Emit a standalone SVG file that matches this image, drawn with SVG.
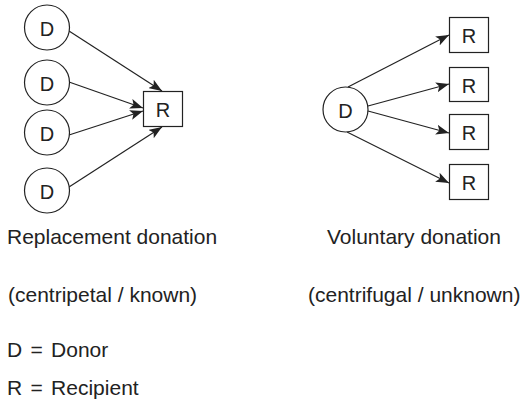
<svg xmlns="http://www.w3.org/2000/svg" width="523" height="402" viewBox="0 0 523 402">
<defs>
<style>
.node{fill:#fff;stroke:#222;stroke-width:1.2}
.lbl{font-family:"Liberation Sans",Arial,sans-serif;font-size:20px;fill:#222;text-anchor:middle;dominant-baseline:central}
.txt{font-family:"Liberation Sans",Arial,sans-serif;font-size:21px;fill:#222}
.leg{word-spacing:2.5px}
.edge{stroke:#222;stroke-width:1.2;fill:none;marker-end:url(#ah)}
</style>
<marker id="ah" markerUnits="userSpaceOnUse" markerWidth="14" markerHeight="10" refX="13" refY="5" orient="auto">
<path d="M0,0 L13,5 L0,10 L3,5 Z" fill="#222"/>
</marker>
</defs>
<rect width="523" height="402" fill="#fff"/>
<g id="connectors">
<line class="edge" x1="69" y1="31" x2="162" y2="91"/>
<line class="edge" x1="69" y1="82" x2="143" y2="108"/>
<line class="edge" x1="69" y1="135" x2="143" y2="111"/>
<line class="edge" x1="69" y1="187" x2="162" y2="127"/>
<line class="edge" x1="348" y1="87" x2="449" y2="35"/>
<line class="edge" x1="368" y1="106" x2="449" y2="84"/>
<line class="edge" x1="368" y1="111" x2="449" y2="133"/>
<line class="edge" x1="347" y1="132" x2="449" y2="183"/>
</g>
<g id="d1"><circle class="node" cx="47" cy="27.5" r="22.5"/><text class="lbl" x="47" y="28.5">D</text></g>
<g id="d2"><circle class="node" cx="47" cy="82.5" r="22.5"/><text class="lbl" x="47" y="83.5">D</text></g>
<g id="d3"><circle class="node" cx="47" cy="132.5" r="22.5"/><text class="lbl" x="47" y="133.5">D</text></g>
<g id="d4"><circle class="node" cx="47" cy="190.5" r="22.5"/><text class="lbl" x="47" y="191.5">D</text></g>
<g id="r0"><rect class="node" x="143.5" y="91.5" width="39" height="35"/><text class="lbl" x="163" y="110">R</text></g>
<g id="d0"><circle class="node" cx="345.5" cy="109.5" r="22.5"/><text class="lbl" x="345.5" y="110.5">D</text></g>
<g id="r1"><rect class="node" x="449.5" y="17.5" width="39" height="35"/><text class="lbl" x="469" y="36">R</text></g>
<g id="r2"><rect class="node" x="449.5" y="67.5" width="39" height="34"/><text class="lbl" x="469" y="85.5">R</text></g>
<g id="r3"><rect class="node" x="449.5" y="114.5" width="39" height="35"/><text class="lbl" x="469" y="133">R</text></g>
<g id="r4"><rect class="node" x="449.5" y="164.5" width="39" height="35"/><text class="lbl" x="469" y="183">R</text></g>
<g id="labels">
<text class="txt" x="7" y="244">Replacement donation</text>
<text class="txt" x="327" y="244">Voluntary donation</text>
<text class="txt" x="8" y="302">(centripetal / known)</text>
<text class="txt" x="308" y="302">(centrifugal / unknown)</text>
<text class="txt leg" x="7" y="357">D = Donor</text>
<text class="txt leg" x="7" y="395">R = Recipient</text>
</g>
</svg>
